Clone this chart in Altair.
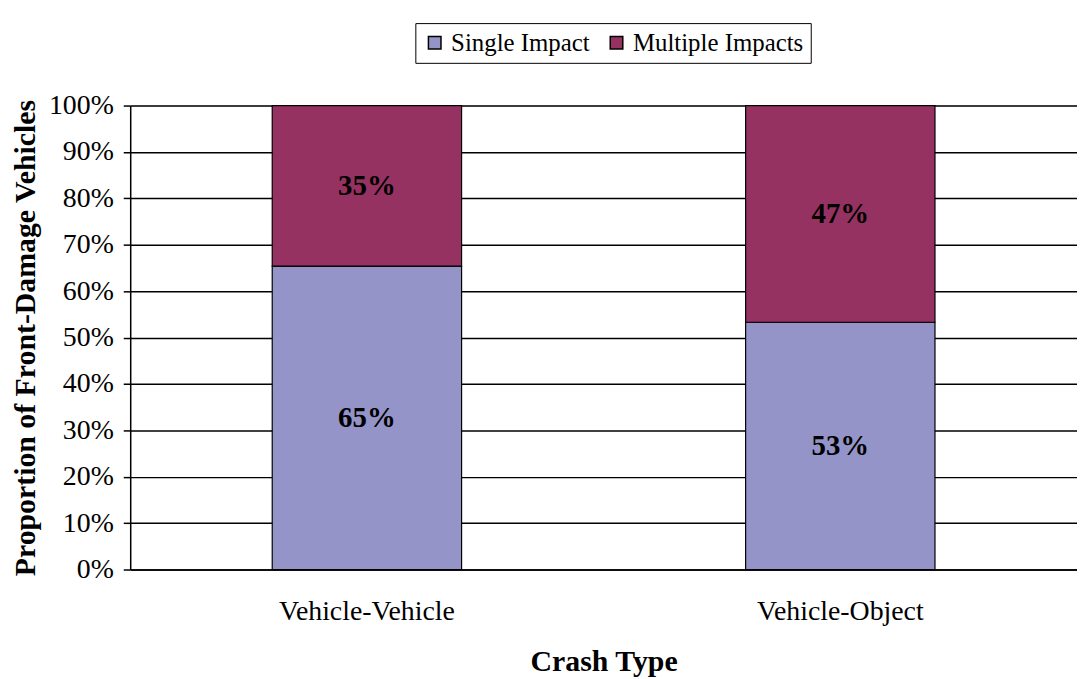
import altair as alt
import pandas as pd

crash_types = ["Vehicle-Vehicle", "Vehicle-Object"]
single_impact = [0.654, 0.533]
multiple_impacts = [0.346, 0.467]
series_names = ["Single Impact", "Multiple Impacts"]
series_colors = ["#9494C8", "#953262"]
y_ticks = [0, 0.1, 0.2, 0.3, 0.4, 0.5, 0.6, 0.7, 0.8, 0.9, 1.0]

rows = []
for i, ct in enumerate(crash_types):
    base = 0.0
    for j, (name, vals) in enumerate(zip(series_names, [single_impact, multiple_impacts])):
        v = vals[i]
        rows.append({"crash": ct, "series": name, "value": v, "order": j,
                     "mid": base + v / 2, "label": f"{round(v * 100):.0f}%"})
        base += v
df = pd.DataFrame(rows)

FONT = "Liberation Serif"

bars = alt.Chart(df).mark_bar(stroke="black", strokeWidth=1.2).encode(
    x=alt.X("crash:N", sort=crash_types,
            scale=alt.Scale(paddingInner=0.6, paddingOuter=0.3),
            axis=alt.Axis(title="Crash Type", labelAngle=0, ticks=False,
                          labelPadding=28, titlePadding=22,
                          labelFontSize=28, titleFontSize=30, titleFontWeight="bold",
                          labelFont=FONT, titleFont=FONT, labelColor="black", titleColor="black",
                          domainColor="black", domainWidth=1.5)),
    y=alt.Y("value:Q", stack="zero", scale=alt.Scale(domain=[0, 1], nice=False),
            axis=alt.Axis(title="Proportion of Front-Damage Vehicles", format=".0%",
                          values=y_ticks, grid=True, gridColor="black", gridWidth=1.5,
                          tickColor="black", tickSize=7, tickWidth=1.5,
                          domainColor="black", domainWidth=1.5,
                          labelFontSize=28, titleFontSize=30, titleFontWeight="bold",
                          labelFont=FONT, titleFont=FONT, labelColor="black", titleColor="black",
                          labelPadding=10, titlePadding=8)),
    color=alt.Color("series:N", sort=series_names,
                    scale=alt.Scale(domain=series_names, range=series_colors),
                    legend=alt.Legend(title=None, orient="none", direction="horizontal",
                                      legendX=287, legendY=-83,
                                      symbolType="square", symbolSize=160,
                                      symbolStrokeColor="black", symbolStrokeWidth=1.5,
                                      labelFont=FONT, labelFontSize=25, labelColor="black",
                                      strokeColor="black", padding=7, columnPadding=14,
                                      labelLimit=400, labelOffset=4)),
    order=alt.Order("order:Q"),
)

labels = alt.Chart(df).mark_text(font=FONT, fontSize=29, fontWeight="bold", color="black").encode(
    x=alt.X("crash:N", sort=crash_types),
    y=alt.Y("mid:Q"),
    text="label:N",
)

chart = alt.layer(bars, labels).properties(
    width=953, height=467,
    padding={"left": 2, "top": 12, "right": 0, "bottom": 0},
).configure_view(stroke=None).configure(background="white")

chart.save("out.html", embed_options={"renderer": "svg", "actions": False})
